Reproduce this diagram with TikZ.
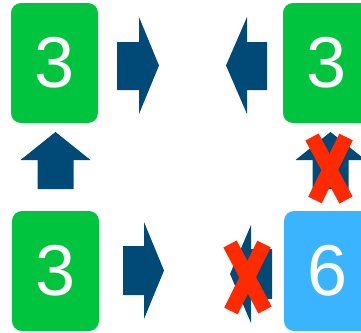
\documentclass[tikz,border=0pt]{standalone}
\usepackage{fontspec}
\setmainfont{Liberation Sans}
\definecolor{cellgreen}{HTML}{00C43E}
\definecolor{cellblue}{HTML}{3AB4FF}
\definecolor{arrowblue}{HTML}{004A77}
\definecolor{crossred}{HTML}{FF2A00}
\begin{document}
\begin{tikzpicture}[x=1pt, y=-1pt,
  cell/.style={rectangle, fill=#1, rounded corners=10pt, inner sep=0pt,
    minimum width=87pt, minimum height=120pt, text=white,
    font=\fontsize{72}{72}\selectfont},
  blockarrow/.style={fill=arrowblue},
  cross/.style={draw=crossred, line width=15pt}
]
\useasboundingbox (0,0) rectangle (361,332);
\clip (0,0) rectangle (361,332);
% the four cells
\node[cell=cellgreen] (topleft) at (54.5,63) {3};
\node[cell=cellgreen] (topright) at (326.5,63) {3};
\node[cell=cellgreen] (botleft) at (55.5,271) {3};
\node[cell=cellblue] (botright) at (327.5,271) {6};
% block arrows
\fill[blockarrow] (117,42) -- (139,42) -- (139,17) -- (159,65.5) -- (139,114) -- (139,90) -- (117,90) -- cycle;
\fill[blockarrow] (267,42) -- (247,42) -- (247,17) -- (226,65.5) -- (247,114) -- (247,90) -- (267,90) -- cycle;
\fill[blockarrow] (37.5,189) -- (37.5,160) -- (20.5,160) -- (55.5,132) -- (90.5,160) -- (73.5,160) -- (73.5,189) -- cycle;
\fill[blockarrow] (312.5,189) -- (312.5,160) -- (295.5,160) -- (330.5,132) -- (365.5,160) -- (348.5,160) -- (348.5,189) -- cycle;
\fill[blockarrow] (123,246) -- (144,246) -- (144,222) -- (164,270.5) -- (144,319) -- (144,295) -- (123,295) -- cycle;
\fill[blockarrow] (272,249) -- (251,249) -- (251,225) -- (230,274) -- (251,323) -- (251,299) -- (272,299) -- cycle;
% crossed out moves
\draw[cross] (312,137) -- (346,200);
\draw[cross] (346,137) -- (315,200);
\draw[cross] (230,244) -- (265,310);
\draw[cross] (264,244) -- (231,311);
\end{tikzpicture}
\end{document}
